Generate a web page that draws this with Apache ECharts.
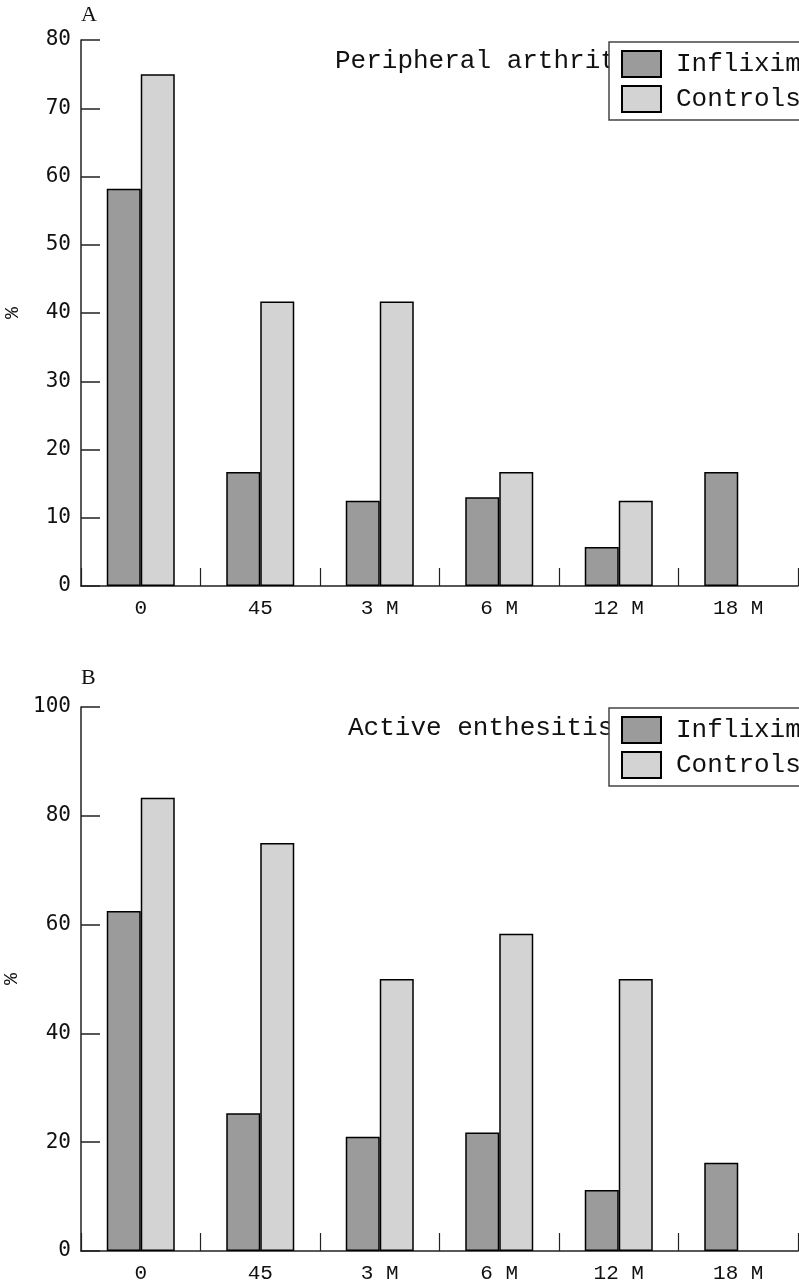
<!DOCTYPE html>
<html><head><meta charset="utf-8">
<script src="https://cdn.jsdelivr.net/npm/echarts@6/dist/echarts.min.js"></script>
<style>html,body{margin:0;padding:0;background:#fff}#c{width:799px;height:1280px}</style>
</head><body><div id="c"></div>
<script>
var categories = ['0', '45', '3 M', '6 M', '12 M', '18 M'];
var seriesNames = ['Infliximab', 'Controls'];
var arthritisInflix = [58.2, 16.7, 12.5, 13.0, 5.7, 16.7];
var arthritisControls = [75.0, 41.7, 41.7, 16.7, 12.5, null];
var enthesitisInflix = [62.5, 25.3, 21.0, 21.8, 11.2, 16.2];
var enthesitisControls = [83.3, 75.0, 50.0, 58.3, 50.0, null];
var panelTitles = ['Peripheral arthritis', 'Active enthesitis'];
var panelLetters = ['A', 'B'];

var mono = 'Liberation Mono';
var dark = '#9b9b9b', light = '#d3d3d3';
var chart = echarts.init(document.getElementById('c'));

function xAxis(gi) {
  return {
    type: 'category', gridIndex: gi, data: categories,
    axisLine: {show: true, lineStyle: {color: '#222', width: 1.5}},
    axisTick: {show: true, inside: true, length: 18, alignWithLabel: false, interval: 0, lineStyle: {color: '#222', width: 1.2}},
    axisLabel: {fontFamily: mono, fontSize: 21, color: '#111', margin: 12}
  };
}
function yAxis(gi, max, interval) {
  return {
    type: 'value', gridIndex: gi, min: 0, max: max, interval: interval,
    name: '%', nameLocation: 'middle', nameGap: 58, nameRotate: 90,
    nameTextStyle: {fontFamily: mono, fontSize: 20, color: '#111'},
    splitLine: {show: false},
    axisLine: {show: true, lineStyle: {color: '#222', width: 1.5}},
    axisTick: {show: true, inside: true, length: 19, lineStyle: {color: '#222', width: 1.5}},
    axisLabel: {fontFamily: 'DejaVu Sans Mono', fontSize: 21, color: '#111', margin: 10}
  };
}
function bar(name, data, gi, color) {
  return {
    type: 'bar', name: name, data: data, xAxisIndex: gi, yAxisIndex: gi,
    barWidth: 34, barGap: '0%',
    itemStyle: {color: color, borderColor: '#000', borderWidth: 1.5},
    emphasis: {disabled: true}
  };
}
function legend(top) {
  return {
    data: seriesNames, left: 609, top: top, orient: 'vertical', icon: 'rect',
    backgroundColor: '#fff', borderColor: '#444', borderWidth: 1.5,
    padding: [8, 30, 7, 12], itemWidth: 39, itemHeight: 26, itemGap: 7,
    textStyle: {fontFamily: mono, fontSize: 26, color: '#111', padding: [0, 0, 0, 10]},
    selectedMode: false, z: 20
  };
}

chart.setOption({
  animation: false,
  backgroundColor: '#fff',
  title: [
    {text: panelLetters[0], left: 76, top: -1, z: 1, textStyle: {fontFamily: 'Liberation Serif', fontSize: 22, fontWeight: 'normal', color: '#111'}},
    {text: panelTitles[0], left: 330, top: 43, z: 1, textStyle: {fontFamily: mono, fontSize: 26, fontWeight: 'normal', color: '#111'}},
    {text: panelLetters[1], left: 76, top: 662, z: 1, textStyle: {fontFamily: 'Liberation Serif', fontSize: 22, fontWeight: 'normal', color: '#111'}},
    {text: panelTitles[1], left: 343, top: 710, z: 1, textStyle: {fontFamily: mono, fontSize: 26, fontWeight: 'normal', color: '#111'}}
  ],
  legend: [legend(42), legend(708)],
  grid: [
    {left: 81, top: 40, width: 717, height: 546, containLabel: false, outerBoundsMode: 'none'},
    {left: 81, top: 707, width: 717, height: 544, containLabel: false, outerBoundsMode: 'none'}
  ],
  xAxis: [xAxis(0), xAxis(1)],
  yAxis: [yAxis(0, 80, 10), yAxis(1, 100, 20)],
  series: [
    bar(seriesNames[0], arthritisInflix, 0, dark),
    bar(seriesNames[1], arthritisControls, 0, light),
    bar(seriesNames[0], enthesitisInflix, 1, dark),
    bar(seriesNames[1], enthesitisControls, 1, light)
  ]
});
</script></body></html>
